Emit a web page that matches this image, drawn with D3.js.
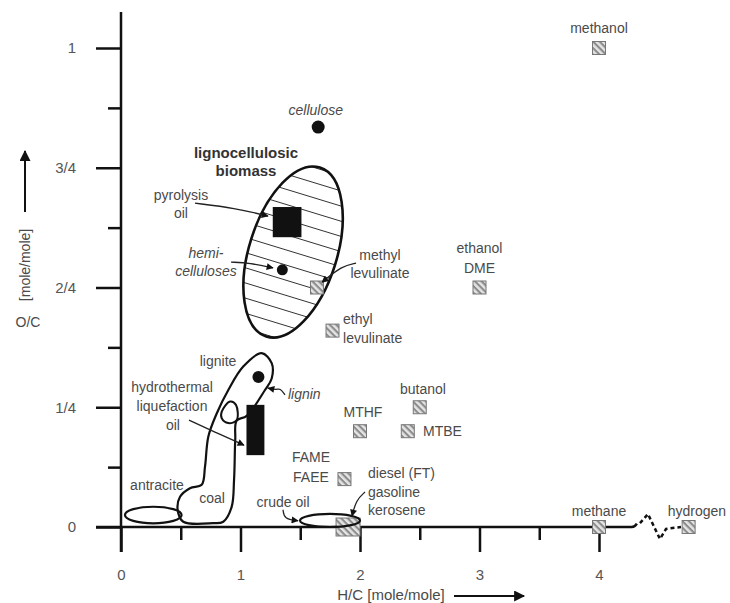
<!DOCTYPE html>
<html>
<head>
<meta charset="utf-8">
<script src="https://cdn.jsdelivr.net/npm/d3@7"></script>
<style>
  body { margin: 0; background: #fff; }
  text { font-family: "Liberation Sans", Arial, sans-serif; }
</style>
</head>
<body>
<script>
// Tick values (H/C and O/C in mole/mole)
var xTicks = [0, 1, 2, 3, 4];
var xMinor = [0.5, 1.5, 2.5, 3.5];
var yTicks = [0, 0.25, 0.5, 0.75, 1];
var yTickLabels = ["0", "1/4", "2/4", "3/4", "1"];
var yMinor = [0.125, 0.375, 0.625, 0.875];

// Fuels drawn as small hatched squares
var fuelNames = ["methanol", "ethanol/DME", "butanol", "MTHF", "MTBE", "FAME/FAEE",
                 "methyl levulinate", "ethyl levulinate", "methane", "hydrogen"];
var fuelHC = [4, 3, 2.5, 2, 2.4, 1.87, 1.64, 1.77, 4, 4.75];
var fuelOC = [1, 0.5, 0.25, 0.2, 0.2, 0.1, 0.5, 0.41, 0, 0];

// diesel (FT) / gasoline / kerosene box
var dieselHC = 1.9, dieselOC = 0;

// Biomass components (dots)
var compNames = ["cellulose", "hemicelluloses", "lignin"];
var compHC = [1.65, 1.35, 1.15];
var compOC = [0.835, 0.537, 0.313];

// Oils as black boxes: [HC min, HC max, OC min, OC max]
var pyrolysisBox = [1.27, 1.51, 0.605, 0.668];
var htlBox = [1.05, 1.2, 0.15, 0.255];

// Regions (centre and radii in H/C, O/C units)
var biomassEllipse = [1.44, 0.574, 0.367, 0.185];
var antraciteEllipse = [0.27, 0.025, 0.237, 0.0173];
var crudeEllipse = [1.749, 0.0136, 0.251, 0.0136];

// lignite / coal outline
var coalOutline = [
  [1.177, 0.363], [1.261, 0.342], [1.261, 0.310], [1.205, 0.286], [1.052, 0.232],
  [0.968, 0.222], [0.956, 0.182], [0.946, 0.098], [0.926, 0.042], [0.856, 0.011],
  [0.772, 0.008], [0.521, 0.011], [0.474, 0.036], [0.494, 0.063], [0.577, 0.081],
  [0.675, 0.088], [0.703, 0.126], [0.731, 0.189], [0.801, 0.237], [0.898, 0.286],
  [1.023, 0.335]
];
// small loop inside the lignite region
var htlLoop = [
  [0.843, 0.241], [0.912, 0.262], [0.962, 0.255], [0.968, 0.223], [0.898, 0.217], [0.843, 0.227]
];

// Leader lines ending in an arrow
var leaders = [
  [[0.619, 0.676], [0.954, 0.666], [1.230, 0.649]],   // pyrolysis oil
  [[0.921, 0.553], [1.079, 0.551], [1.272, 0.541]],   // hemicelluloses
  [[1.967, 0.551], [1.849, 0.545], [1.682, 0.511]],   // methyl levulinate
  [[0.569, 0.223], [0.787, 0.198], [1.029, 0.171]],   // HTL oil
  [[1.372, 0.276], [1.330, 0.290], [1.305, 0.286], [1.230, 0.290]],   // lignin
  [[1.356, 0.036], [1.364, 0.017], [1.481, 0.013]],   // crude oil
  [[2.042, 0.073], [1.967, 0.056], [1.933, 0.023]]    // gasoline
];

// Axis break towards hydrogen
var axisEndHC = 4.30;
var breakLine = [[4.343, 0.008], [4.410, 0.027], [4.510, -0.025], [4.561, -0.004], [4.686, 0]];

// Labels: text, H/C, O/C
var labels = [
  ["methanol", 4.0, 1.042],
  ["cellulose", 1.63, 0.871],
  ["lignocellulosic", 1.046, 0.781],
  ["biomass", 1.046, 0.743],
  ["pyrolysis", 0.502, 0.693],
  ["oil", 0.502, 0.656],
  ["hemi-", 0.711, 0.572],
  ["celluloses", 0.711, 0.534],
  ["methyl", 2.167, 0.568],
  ["levulinate", 2.167, 0.530],
  ["ethyl", 1.858, 0.434],
  ["levulinate", 1.858, 0.395],
  ["ethanol", 3.0, 0.582],
  ["DME", 3.0, 0.541],
  ["lignite", 0.812, 0.347],
  ["lignin", 1.397, 0.278],
  ["hydrothermal", 0.427, 0.292],
  ["liquefaction", 0.427, 0.253],
  ["oil", 0.435, 0.213],
  ["antracite", 0.301, 0.088],
  ["coal", 0.762, 0.061],
  ["butanol", 2.527, 0.288],
  ["MTHF", 2.025, 0.240],
  ["MTBE", 2.527, 0.200],
  ["FAME", 1.59, 0.146],
  ["FAEE", 1.59, 0.104],
  ["diesel (FT)", 2.067, 0.113],
  ["gasoline", 2.067, 0.073],
  ["kerosene", 2.067, 0.036],
  ["crude oil", 1.356, 0.052],
  ["methane", 4.0, 0.033],
  ["hydrogen", 4.82, 0.033]
];
var leftAligned = [10, 11, 15, 23, 26, 27, 28];
var italicLabels = [1, 6, 7, 15];
var boldLabels = [2, 3];

var W = 730, H = 603;
var ink = "#111";
var textCol = "#4a4a4a";

var x = d3.scaleLinear().domain([0, 4]).range([121, 599]);
var y = d3.scaleLinear().domain([0, 1]).range([527, 48]);

var svg = d3.select("body").append("svg")
    .attr("width", W)
    .attr("height", H);

var defs = svg.append("defs");

// arrow heads
function addMarker(id, len, wid) {
  defs.append("marker")
      .attr("id", id)
      .attr("viewBox", "0 0 10 10")
      .attr("refX", 9)
      .attr("refY", 5)
      .attr("markerUnits", "userSpaceOnUse")
      .attr("markerWidth", len)
      .attr("markerHeight", wid)
      .attr("orient", "auto")
      .append("path")
      .attr("d", "M0,0L10,5L0,10z")
      .attr("fill", ink);
}
addMarker("arrow", 9, 7);
addMarker("bigArrow", 15, 11);

// hatching of the fuel squares
var fh = defs.append("pattern")
    .attr("id", "fuelHatch")
    .attr("patternUnits", "userSpaceOnUse")
    .attr("width", 4.6)
    .attr("height", 4.6)
    .attr("patternTransform", "rotate(45)");
fh.append("rect").attr("width", 4.6).attr("height", 4.6).attr("fill", "#e4e4e4");
fh.append("rect").attr("width", 4.6).attr("height", 2.1).attr("fill", "#8c8c8c");

// ---- axes ----
var tickLen = 25, minorLen = 13;

var gy = svg.append("g")
    .attr("transform", `translate(${x(0)},0)`)
    .call(d3.axisLeft(y).tickValues(yTicks)
        .tickFormat((d, i) => yTickLabels[i]).tickSize(tickLen).tickPadding(20));
var gyMinor = svg.append("g")
    .attr("transform", `translate(${x(0)},0)`)
    .call(d3.axisLeft(y).tickValues(yMinor).tickFormat("").tickSize(minorLen));

var gx = svg.append("g")
    .attr("transform", `translate(0,${y(0)})`)
    .call(d3.axisBottom(x).tickValues(xTicks).tickFormat(d3.format("d"))
        .tickSize(tickLen).tickPadding(17));
var gxMinor = svg.append("g")
    .attr("transform", `translate(0,${y(0)})`)
    .call(d3.axisBottom(x).tickValues(xMinor).tickFormat("").tickSize(minorLen));

[gy, gyMinor, gx, gxMinor].forEach(function (g) {
  g.select(".domain").remove();
  g.selectAll("line").attr("stroke", ink).attr("stroke-width", 2.5);
  g.selectAll("text")
      .style("font-family", "'Liberation Sans', Arial, sans-serif")
      .style("font-size", "15px")
      .attr("fill", "#555");
});

// axis lines
svg.append("line")
    .attr("x1", x(0)).attr("x2", x(0))
    .attr("y1", y(1.075)).attr("y2", y(0) + tickLen)
    .attr("stroke", ink).attr("stroke-width", 2.5);

svg.append("path")
    .attr("d", `M${x(0) - tickLen},${y(0)}L${x(axisEndHC) - 3},${y(0)}Q${x(axisEndHC)},${y(0)} ${x(axisEndHC) + 2},${y(0.007)}`)
    .attr("fill", "none")
    .attr("stroke", ink).attr("stroke-width", 2.5);

var lineXY = d3.line().x(d => x(d[0])).y(d => y(d[1]));

svg.append("path")
    .datum(breakLine)
    .attr("d", lineXY)
    .attr("fill", "none")
    .attr("stroke", ink).attr("stroke-width", 2.5)
    .attr("stroke-dasharray", "4,3");

// axis titles
svg.append("text")
    .attr("x", 391).attr("y", 595).attr("dy", "0.35em")
    .style("text-anchor", "middle")
    .style("font-size", "15px")
    .attr("fill", textCol)
    .text("H/C [mole/mole]");
svg.append("line")
    .attr("x1", 454).attr("x2", 524).attr("y1", 596).attr("y2", 596)
    .attr("stroke", ink).attr("stroke-width", 2)
    .attr("marker-end", "url(#bigArrow)");

svg.append("text")
    .attr("transform", "translate(25,265) rotate(-90)")
    .attr("dy", "0.35em")
    .style("text-anchor", "middle")
    .style("font-size", "14px")
    .attr("fill", textCol)
    .text("[mole/mole]");
svg.append("text")
    .attr("x", 28).attr("y", 322).attr("dy", "0.35em")
    .style("text-anchor", "middle")
    .style("font-size", "14px")
    .attr("fill", textCol)
    .text("O/C");
svg.append("line")
    .attr("x1", 25).attr("x2", 25).attr("y1", 212).attr("y2", 151)
    .attr("stroke", ink).attr("stroke-width", 2)
    .attr("marker-end", "url(#bigArrow)");

// ---- regions ----
function ellipseGeom(e) {
  var cx = x(e[0]), cy = y(e[1]);
  return {cx: cx, cy: cy, rx: x(e[0] + e[2]) - cx, ry: cy - y(e[1] + e[3])};
}
function ellipse(parent, e, angle, fill, width) {
  var g = ellipseGeom(e);
  return parent.append("ellipse")
      .attr("cx", g.cx).attr("cy", g.cy)
      .attr("rx", g.rx).attr("ry", g.ry)
      .attr("transform", `rotate(${angle},${g.cx},${g.cy})`)
      .attr("fill", fill)
      .attr("stroke", width ? ink : "none")
      .attr("stroke-width", width);
}

// lignocellulosic biomass: white ellipse with hatch lines clipped to it
var tilt = 17.6;
var bg = ellipseGeom(biomassEllipse);
ellipse(defs.append("clipPath").attr("id", "bioClip"), biomassEllipse, tilt, "#000", 0);
ellipse(svg, biomassEllipse, tilt, "#fff", 0);
var hatchAngle = 17 * Math.PI / 180, hatchGap = 14.5;
var hatchG = svg.append("g").attr("clip-path", "url(#bioClip)");
hatchG.selectAll("line")
    .data(d3.range(-8, 9))
    .enter().append("line")
    .attr("x1", bg.cx - 120)
    .attr("x2", bg.cx + 120)
    .attr("y1", k => bg.cy + k * hatchGap / Math.cos(hatchAngle) - 120 * Math.tan(hatchAngle))
    .attr("y2", k => bg.cy + k * hatchGap / Math.cos(hatchAngle) + 120 * Math.tan(hatchAngle))
    .attr("stroke", "#333").attr("stroke-width", 1);
ellipse(svg, biomassEllipse, tilt, "none", 2.6);

ellipse(svg, antraciteEllipse, 0, "none", 2.2);

var closedCurve = d3.line()
    .x(d => x(d[0])).y(d => y(d[1]))
    .curve(d3.curveCatmullRomClosed.alpha(0.5));

svg.append("path")
    .datum(coalOutline)
    .attr("d", closedCurve)
    .attr("fill", "none")
    .attr("stroke", ink).attr("stroke-width", 2.2);

svg.append("path")
    .datum(htlLoop)
    .attr("d", closedCurve)
    .attr("fill", "none")
    .attr("stroke", ink).attr("stroke-width", 2);

// diesel/gasoline/kerosene box sits on the axis
svg.append("rect")
    .attr("x", x(dieselHC) - 12).attr("y", y(dieselOC) - 9)
    .attr("width", 24).attr("height", 18)
    .attr("fill", "url(#fuelHatch)")
    .attr("stroke", "#777").attr("stroke-width", 1);

ellipse(svg, crudeEllipse, 0, "none", 2.2);

// black boxes for the oils
[pyrolysisBox, htlBox].forEach(function (b) {
  svg.append("rect")
      .attr("x", x(b[0])).attr("y", y(b[3]))
      .attr("width", x(b[1]) - x(b[0]))
      .attr("height", y(b[2]) - y(b[3]))
      .attr("fill", ink);
});

// fuels
svg.selectAll(".fuel")
    .data(fuelNames)
    .enter().append("rect")
    .attr("class", "fuel")
    .attr("x", (d, i) => x(fuelHC[i]) - 6.5)
    .attr("y", (d, i) => y(fuelOC[i]) - 6.5)
    .attr("width", 13).attr("height", 13)
    .attr("fill", "url(#fuelHatch)")
    .attr("stroke", "#777").attr("stroke-width", 1);

// biomass components
var compR = [6.5, 5.5, 6];
svg.selectAll(".comp")
    .data(compNames)
    .enter().append("circle")
    .attr("class", "comp")
    .attr("cx", (d, i) => x(compHC[i]))
    .attr("cy", (d, i) => y(compOC[i]))
    .attr("r", (d, i) => compR[i])
    .attr("fill", ink);

// leader lines
var leaderLine = d3.line()
    .x(d => x(d[0])).y(d => y(d[1]))
    .curve(d3.curveBasis);

svg.selectAll(".leader")
    .data(leaders)
    .enter().append("path")
    .attr("class", "leader")
    .attr("d", leaderLine)
    .attr("fill", "none")
    .attr("stroke", "#222").attr("stroke-width", 1.3)
    .attr("marker-end", "url(#arrow)");

// labels
svg.selectAll(".label")
    .data(labels)
    .enter().append("text")
    .attr("class", "label")
    .attr("x", d => x(d[1]))
    .attr("y", d => y(d[2]))
    .attr("dy", "0.35em")
    .style("text-anchor", (d, i) => leftAligned.indexOf(i) >= 0 ? "start" : "middle")
    .style("font-style", (d, i) => italicLabels.indexOf(i) >= 0 ? "italic" : "normal")
    .style("font-weight", (d, i) => boldLabels.indexOf(i) >= 0 ? "bold" : "normal")
    .style("font-size", (d, i) => boldLabels.indexOf(i) >= 0 ? "15px" : "14px")
    .attr("fill", (d, i) => boldLabels.indexOf(i) >= 0 ? "#333" : textCol)
    .text(d => d[0]);
</script>
</body>
</html>
